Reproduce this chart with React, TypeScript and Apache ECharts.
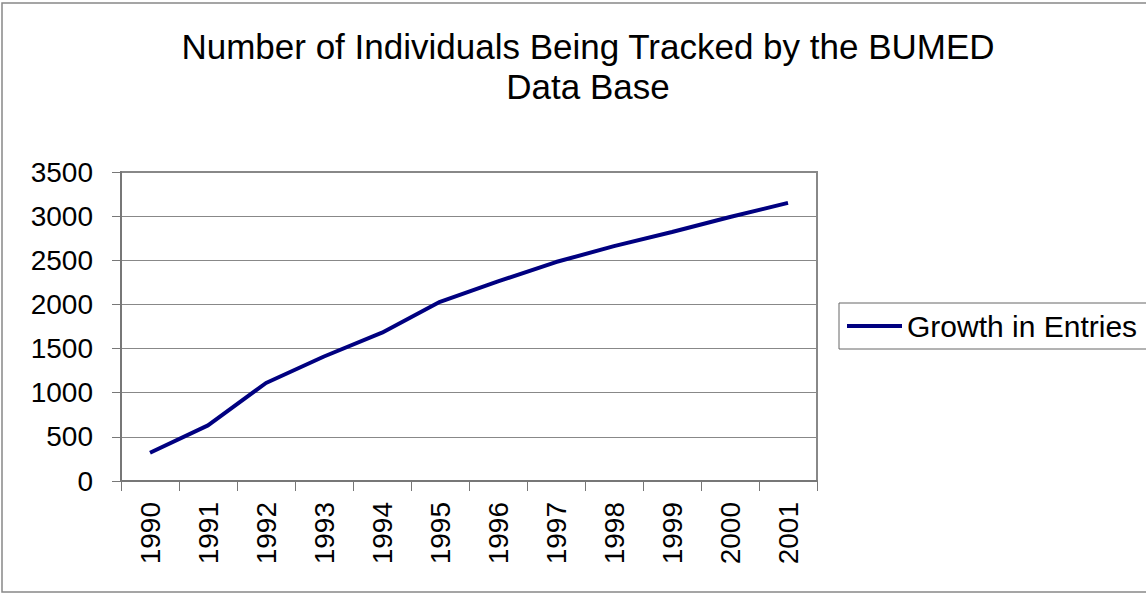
import React, { useEffect, useRef } from "react";
import * as echarts from "echarts";

const years = ["1990", "1991", "1992", "1993", "1994", "1995", "1996", "1997", "1998", "1999", "2000", "2001"];
const entries = [320, 630, 1110, 1410, 1680, 2030, 2260, 2480, 2660, 2820, 2990, 3150];
const yTicks = { min: 0, max: 3500, interval: 500 };
const titleText = "Number of Individuals Being Tracked by the BUMED\nData Base";
const seriesName = "Growth in Entries";

const FONT = "'Liberation Sans', Arial, Helvetica, sans-serif";

export default function App() {
  const ref = useRef<HTMLDivElement>(null);
  useEffect(() => {
    if (!ref.current) return;
    const chart = echarts.init(ref.current, undefined, { renderer: "svg" });
    chart.setOption({
      animation: false,
      backgroundColor: "#ffffff",
      textStyle: { fontFamily: FONT },
      title: {
        text: titleText,
        left: 583,
        top: 21,
        textAlign: "center",
        textStyle: { fontFamily: FONT, fontSize: 35, fontWeight: "normal", color: "#000", lineHeight: 40 },
      },
      graphic: [
        {
          type: "rect",
          shape: { x: 2, y: 3, width: 1152, height: 589 },
          style: { fill: "none", stroke: "#888", lineWidth: 1.5 },
          silent: true,
          z: -1,
        },
      ],
      legend: {
        left: 839,
        top: 303,
        orient: "horizontal",
        data: [seriesName],
        icon: "rect",
        itemWidth: 55,
        itemHeight: 4,
        padding: [8, 10, 8, 8],
        borderColor: "#666",
        borderWidth: 1,
        textStyle: { fontFamily: FONT, fontSize: 30, color: "#000" },
      },
      grid: {
        left: 121,
        top: 172,
        width: 696,
        height: 309,
        show: true,
        borderColor: "#888",
        borderWidth: 2,
        backgroundColor: "#fff",
      },
      xAxis: {
        type: "category",
        data: years,
        boundaryGap: true,
        axisLine: { lineStyle: { color: "#777", width: 2 } },
        axisTick: { show: true, length: 10, lineStyle: { color: "#777", width: 1 } },
        axisLabel: { rotate: 90, margin: 21, fontFamily: FONT, fontSize: 28, color: "#000", interval: 0 },
        splitLine: { show: false },
      },
      yAxis: {
        type: "value",
        min: yTicks.min,
        max: yTicks.max,
        interval: yTicks.interval,
        axisLine: { show: true, lineStyle: { color: "#777", width: 2 } },
        axisTick: { show: true, length: 9, lineStyle: { color: "#777", width: 1 } },
        axisLabel: {
          margin: 28,
          fontFamily: FONT,
          fontSize: 28,
          color: "#000",
          formatter: (v: number) => String(v),
        },
        splitLine: { show: true, lineStyle: { color: "#888", width: 1 } },
      },
      series: [
        {
          name: seriesName,
          type: "line",
          data: entries,
          symbol: "none",
          lineStyle: { color: "#000080", width: 4 },
          itemStyle: { color: "#000080" },
        },
      ],
    });
    return () => chart.dispose();
  }, []);
  return (
    <div
      ref={ref}
      style={{ position: "fixed", left: 0, top: 0, width: 1146, height: 594 }}
    />
  );
}
